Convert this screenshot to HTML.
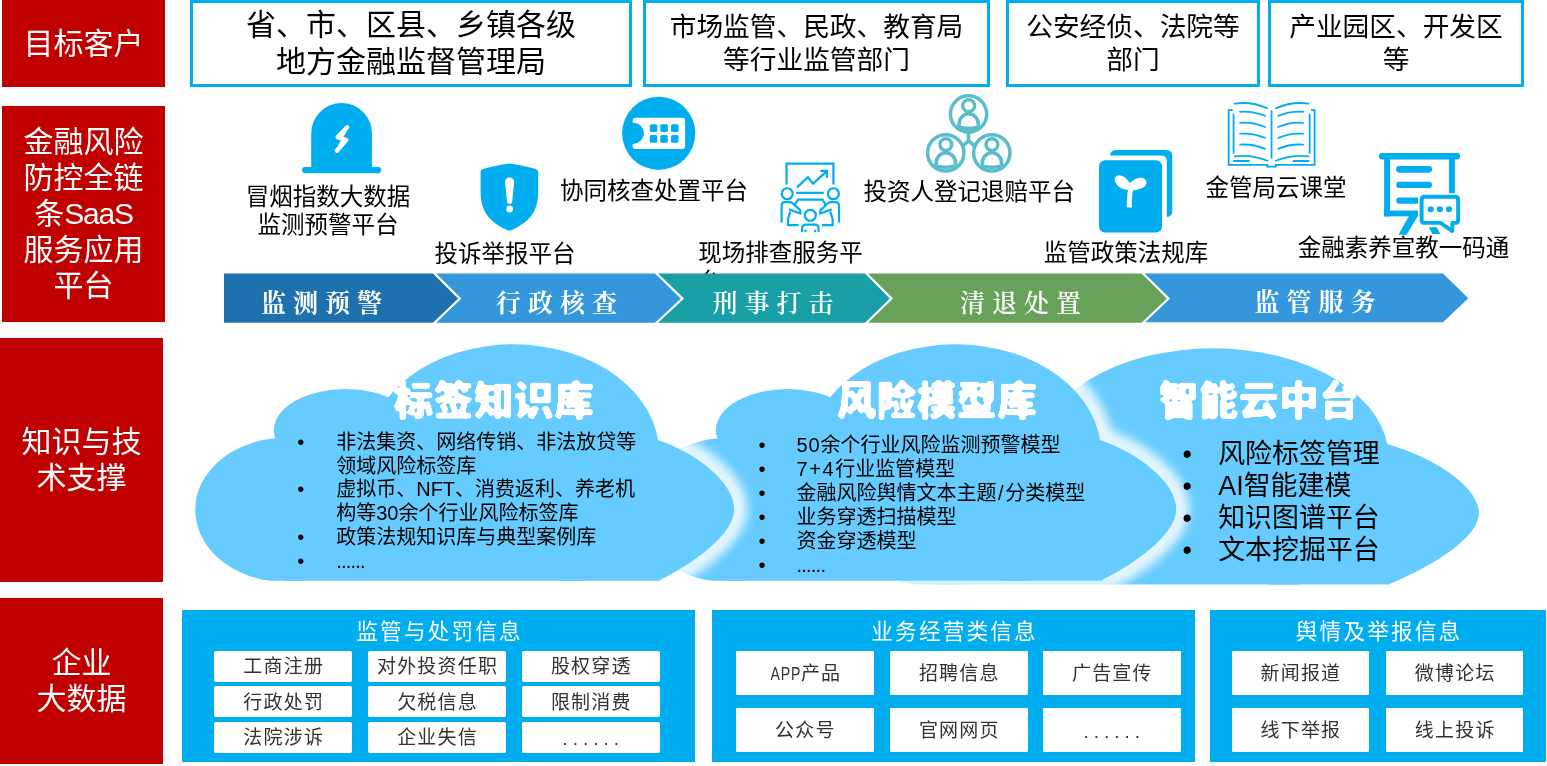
<!DOCTYPE html>
<html lang="zh-CN">
<head>
<meta charset="utf-8">
<title>金融风险防控全链条SaaS服务应用平台</title>
<style>
html,body{margin:0;padding:0;background:#fff;}
body{width:1547px;height:766px;position:relative;overflow:hidden;font-family:"Liberation Sans","Noto Sans CJK SC",sans-serif;color:#000;font-weight:400;}
#stage{position:absolute;left:0;top:0;width:1547px;height:766px;will-change:transform;}
.abs{position:absolute;}
.red{position:absolute;background:#C00000;color:#fff;font-size:30px;line-height:36px;text-align:center;display:flex;align-items:center;justify-content:center;font-weight:400;}
.tbox{position:absolute;box-sizing:border-box;border:3px solid #00AEEF;background:#fff;text-align:center;display:flex;align-items:center;justify-content:center;}
.lbl{position:absolute;font-size:23.5px;line-height:28px;white-space:nowrap;text-align:center;}
.panel{position:absolute;background:#00AEEF;}
.ptitle{position:absolute;left:0;right:0;top:9px;text-align:center;color:#fff;font-size:21.6px;line-height:26px;letter-spacing:2.2px;text-indent:2.2px;}
.chip{position:absolute;box-sizing:border-box;background:#fff;border-radius:1.2px;color:#333;font-size:19px;letter-spacing:1.2px;text-indent:1.2px;text-align:center;display:flex;align-items:center;justify-content:center;line-height:20px;padding-top:2px;}
.p1 .chip{border-radius:1.8px;}
.chip.dots{letter-spacing:5px;text-indent:5px;padding-top:4px;}
.cx{display:inline-block;transform:scaleX(.74);margin:0 -5.6px;}
.bul{position:absolute;font-size:20px;line-height:23.9px;white-space:nowrap;}
.bul .e{letter-spacing:-.8px;}
.bul .d{position:absolute;}
#svgbg{position:absolute;left:0;top:0;}
</style>
</head>
<body>
<div id="stage">

<!-- left red labels -->
<div class="red" style="left:2px;top:0;width:163px;height:87px;"><div>目标客户</div></div>
<div class="red" style="left:2px;top:106px;width:163px;height:216px;"><div>金融风险<br>防控全链<br>条<span style="letter-spacing:-1.2px">SaaS</span><br>服务应用<br>平台</div></div>
<div class="red" style="left:0;top:338px;width:163px;height:244px;"><div>知识与技<br>术支撑</div></div>
<div class="red" style="left:0;top:598px;width:163px;height:166.3px;"><div>企业<br>大数据</div></div>

<!-- top boxes -->
<div class="tbox" style="left:190px;top:0;width:442px;height:87px;font-size:30px;line-height:36.5px;"><div>省、市、区县、乡镇各级<br>地方金融监督管理局</div></div>
<div class="tbox" style="left:643px;top:0;width:347px;height:87px;font-size:26.7px;line-height:33px;"><div>市场监管、民政、教育局<br>等行业监管部门</div></div>
<div class="tbox" style="left:1006px;top:0;width:254px;height:87px;font-size:26.7px;line-height:33px;"><div>公安经侦、法院等<br>部门</div></div>
<div class="tbox" style="left:1268px;top:0;width:256px;height:87px;font-size:26.7px;line-height:33px;"><div>产业园区、开发区<br>等</div></div>


<!-- icon labels -->
<div class="lbl" style="left:228px;top:183px;width:200px;">冒烟指数大数据<br>监测预警平台</div>
<div class="lbl" style="left:405px;top:239.7px;width:200px;">投诉举报平台</div>
<div class="lbl" style="left:554px;top:177.4px;width:200px;">协同核查处置平台</div>
<div class="lbl" style="left:698.2px;top:239px;width:172px;text-align:left;white-space:normal;line-height:28.6px;">现场排查服务平台</div>
<div class="lbl" style="left:863.4px;top:178px;width:200px;">投资人登记退赔平台</div>
<div class="lbl" style="left:1026px;top:239px;width:200px;">监管政策法规库</div>
<div class="lbl" style="left:1175.9px;top:174.4px;width:200px;">金管局云课堂</div>
<div class="lbl" style="left:1297.7px;top:234.4px;width:200px;">金融素养宣教一码通</div>

<!-- arrow bar -->
<svg class="abs" style="left:0;top:0;" width="1547" height="340" viewBox="0 0 1547 340">
  <g id="arrowbar">
    <polygon points="224,273.5 434.5,273.5 459.8,298.6 434.5,322.7 224,322.7" fill="#1F71AD"/>
    <polygon points="434.5,273.5 656.5,273.5 682.5,298.6 656.5,322.7 434.5,322.7 459.8,298.6" fill="#3496DB"/>
    <polygon points="656.5,273.5 866.5,273.5 891.5,298.6 866.5,322.7 656.5,322.7 682.5,298.6" fill="#19A0A7"/>
    <polygon points="866.5,273.5 1143,273.5 1168.5,298.6 1143,322.7 866.5,322.7 891.5,298.6" fill="#68A25A"/>
    <polygon points="1143,273.5 1443,273.5 1468.3,298.3 1443,322.2 1143,322.2 1168.5,298.6" fill="#3496DB"/>
    <g fill="none" stroke="#fff" stroke-width="2.2">
      <polyline points="433.5,272.5 459.8,298.6 433.5,323.7"/>
      <polyline points="655.5,272.5 682.5,298.6 655.5,323.7"/>
      <polyline points="865.5,272.5 891.5,298.6 865.5,323.7"/>
      <polyline points="1142,272.5 1168.5,298.6 1142,323.7"/>
    </g>
    <g fill="#fff" font-family="'Liberation Serif','Noto Serif CJK SC',serif" font-size="25" text-anchor="middle" style="white-space:pre">
      <text x="325" y="311.6" font-weight="700" letter-spacing="7">监测预警</text>
      <text x="560" y="311.6" font-weight="700" letter-spacing="7">行政核查</text>
      <text x="776.5" y="311.6" font-weight="600" letter-spacing="7">刑事打击</text>
      <text x="1024" y="311.6" font-weight="600" letter-spacing="7">清退处置</text>
      <text x="1318.5" y="310.8" font-weight="700" letter-spacing="7">监管服务</text>
    </g>
  </g>

  <g id="icons">
    <!-- 1 siren -->
    <g fill="#00AEEF">
      <path d="M311.2,170 V133.4 A30.4,30.4 0 0 1 372,133.4 V170 Z"/>
      <rect x="302" y="167" width="79.2" height="6.2" rx="3.1"/>
      <polyline points="347.2,127.3 337.7,137.1 346.3,140.1 336.8,150.7" fill="none" stroke="#fff" stroke-width="4.3" stroke-linejoin="round" stroke-linecap="round"/><polygon points="347.2,127.3 337.7,137.1 342,138.6 346,133" fill="#fff"/><polygon points="336.8,150.7 346.3,140.1 342,138.6 338.5,145" fill="#fff"/>
    </g>
    <!-- 2 shield -->
    <g>
      <path fill="#00AEEF" d="M509.4,163.4 C500,164.5 490,167 483,169 Q480.6,169.8 480.6,172 V192 C480.6,212 490,222 507,230 Q509.4,231.2 511.8,230 C529,222 538.2,212 538.2,192 V172 Q538.2,169.8 535.8,169 C529,167 519,164.5 509.4,163.4 Z"/>
      <path fill="#fff" d="M505,182 A4.6,4.6 0 0 1 514.2,182 L512.2,201.2 A2.6,2.6 0 0 1 507,201.2 Z"/>
      <circle cx="509.6" cy="209" r="3.4" fill="#fff"/>
    </g>
    <!-- 3 ticket in circle -->
    <g>
      <circle cx="658.7" cy="133.3" r="36.6" fill="#00AEEF"/>
      <rect x="632.6" y="117.8" width="52.5" height="31.2" rx="3" fill="#fff"/>
      <circle cx="633.3" cy="133.3" r="10.6" fill="#00AEEF"/>
      <g fill="#00AEEF">
        <rect x="649.8" y="124.2" width="7.5" height="7.8" rx="1.6"/><rect x="660.3" y="124.2" width="7.5" height="7.8" rx="1.6"/><rect x="671" y="124.2" width="7.5" height="7.8" rx="1.6"/>
        <rect x="649.8" y="135" width="7.5" height="7.8" rx="1.6"/><rect x="660.3" y="135" width="7.5" height="7.8" rx="1.6"/><rect x="671" y="135" width="7.5" height="7.8" rx="1.6"/>
      </g>
    </g>
    <!-- 4 meeting -->
    <g transform="translate(700,150) scale(0.13055)" fill="none" stroke="#00AEEF" stroke-width="17" stroke-linejoin="miter">
      <polyline points="663,265 663,105 1022,105 1022,265"/>
      <polyline points="742,288 826,208 866,258 972,162"/>
      <polyline points="922,160 972,160 972,212"/>
      <line x1="735" y1="328" x2="948" y2="328"/>
      <circle cx="668" cy="335" r="42"/>
      <circle cx="1022" cy="335" r="42"/>
      <polyline points="722,425 750,380 940,380 965,425"/>
      <path d="M625,555 V428 Q625,400 653,400 H688 Q702,400 712,410 L768,462 V486 L682,455"/>
      <path d="M692,472 L674,528 V575 H756"/>
      <path d="M1065,555 V428 Q1065,400 1037,400 H1002 Q988,400 978,410 L922,462 V486 L1008,455"/>
      <path d="M998,472 L1016,528 V575 H934"/>
      <circle cx="845" cy="500" r="42"/>
      <path d="M782,628 V600 Q782,572 810,572 H880 Q908,572 908,600 V628"/>
      <path d="M808,610 V628 M882,610 V628"/>
    </g>
    <!-- 5 three people -->
    <g transform="translate(870,85) scale(0.13055)" fill="none" stroke="#5BBCCB" stroke-width="27">
      <g id="pc"><circle cx="755" cy="222" r="139"/><circle cx="756" cy="158" r="45"/><path d="M681,308 C681,258 712,221 756,221 C800,221 831,258 831,308 Q831,324 812,327 Q756,336 700,327 Q681,324 681,308 Z"/></g>
      <g transform="translate(-175,298)"><circle cx="755" cy="222" r="139"/><circle cx="756" cy="158" r="45"/><path d="M681,308 C681,258 712,221 756,221 C800,221 831,258 831,308 Q831,324 812,327 Q756,336 700,327 Q681,324 681,308 Z"/></g>
      <g transform="translate(178,298)"><circle cx="755" cy="222" r="139"/><circle cx="756" cy="158" r="45"/><path d="M681,308 C681,258 712,221 756,221 C800,221 831,258 831,308 Q831,324 812,327 Q756,336 700,327 Q681,324 681,308 Z"/></g>
      <path d="M755,372 V425 L712,468 M755,425 L798,468"/>
    </g>
    <!-- 6 folder sprout -->
    <g>
      <path fill="#00AEEF" d="M1110,155.4 Q1110.5,150 1117,150 H1166 Q1172.3,150 1172.3,156.3 V211 Q1172.3,216.5 1166.8,217 V161 Q1166.8,155.4 1161,155.4 Z"/>
      <rect x="1099" y="160.2" width="63" height="72.2" rx="6" fill="#00AEEF"/>
      <g transform="translate(1050,140) scale(0.13055)" fill="#fff">
        <path d="M598,380 C590,420 588,470 588,518 H628 C624,470 628,420 636,385 Z"/>
        <path d="M612,332 C590,290 540,258 510,275 C478,295 500,340 540,365 C565,380 590,382 602,380 Z"/>
        <path d="M618,328 C640,295 700,275 728,300 C755,330 730,360 700,370 C670,382 645,386 630,386 Z"/>
        <path d="M600,385 L612,325 L622,325 L636,388 Z"/>
      </g>
    </g>
    <!-- 7 book -->
    <g transform="translate(1200,85) scale(0.13055)" fill="none" stroke="#00AEEF" stroke-width="13.8" stroke-linecap="round">
      <polyline stroke-linecap="butt" points="250,193 220,193 220,612 515,612 515,625 580,625 580,612 878,612 878,193 850,193"/>
      <path d="M257,225 V520 M840,225 V520 M548,200 V558"/>
      <path d="M265,143 C350,130 440,145 515,178 M832,143 C747,130 657,145 582,178"/>
      <path d="M307,205 C370,200 440,213 498,237 M307,290 C370,285 440,298 498,322 M307,373 C370,368 440,381 498,405 M307,457 C370,452 440,465 498,489"/>
      <path d="M790,205 C727,200 657,213 599,237 M790,290 C727,285 657,298 599,322 M790,373 C727,368 657,381 599,405 M790,457 C727,452 657,465 599,489"/>
      <path d="M265,547 C350,535 440,550 518,580 M832,547 C747,535 657,550 579,580"/>
      <path d="M260,582 H375 M717,582 H832"/>
    </g>
    <!-- 8 board with chat -->
    <g transform="translate(1340,140) scale(0.13055)" fill="#00AEEF">
      <rect x="298" y="100" width="622" height="50" rx="25"/>
      <rect x="338" y="125" width="45" height="460"/>
      <rect x="835" y="125" width="45" height="300"/>
      <rect x="338" y="540" width="260" height="45"/>
      <rect x="430" y="200" width="275" height="50" rx="25"/>
      <rect x="430" y="320" width="275" height="48" rx="24"/>
      <rect x="430" y="440" width="180" height="48" rx="24"/>
      <polygon points="528,583 596,583 510,725 448,725"/>
      <polygon points="680,668 740,668 768,720 708,720"/>
      <path d="M598,408 H932 V662 H880 V720 H830 L760,662 H598 Z" fill="#fff"/>
      <path d="M650,435 H880 Q905,435 905,460 V610 Q905,635 880,635 H860 V698 L770,635 H650 Q625,635 625,610 V460 Q625,435 650,435 Z" fill="#fff" stroke="#00AEEF" stroke-width="30" stroke-linejoin="round"/>
      <circle cx="695" cy="530" r="23"/><circle cx="765" cy="530" r="23"/><circle cx="835" cy="530" r="23"/>
    </g>
  </g>

</svg>


<svg class="abs" style="left:0;top:330px;" width="1547" height="270" viewBox="0 330 1547 270">
  <defs>
    <filter id="glow" x="-10%" y="-10%" width="120%" height="120%"><feGaussianBlur stdDeviation="5"/></filter>
    <filter id="round" x="-5%" y="-20%" width="110%" height="140%"><feGaussianBlur stdDeviation="1.3"/><feComponentTransfer><feFuncA type="linear" slope="6" intercept="-2.5"/></feComponentTransfer></filter>
    <clipPath id="cglow"><rect x="0" y="330" width="1547" height="258"/></clipPath>
    <clipPath id="cbot"><rect x="0" y="330" width="1547" height="250.7"/></clipPath>
    <clipPath id="cbot3"><rect x="0" y="330" width="1547" height="254.5"/></clipPath>
    <g id="cloud">
      <ellipse cx="285.2" cy="509.9" rx="90" ry="72"/>
      <ellipse cx="345.6" cy="430.2" rx="71.8" ry="41.2"/>
      <ellipse cx="513.4" cy="452.6" rx="145.7" ry="108.3"/>
      <path d="M560,439.7 L657.2,439.7 C695,452 734.3,482 734.3,509 C734.3,532 700,560 660,580 L660,590 L560,590 Z"/>
      <rect x="285" y="440" width="300" height="150"/>
    </g>
  </defs>
  <!-- cloud 3 (back) -->
  <g clip-path="url(#cbot3)"><use href="#cloud" transform="translate(1212.8,4) scale(1.205,1) translate(-513.4,0)" fill="#66CCFF"/></g>
  <!-- cloud 2 -->
  <g filter="url(#glow)" opacity="0.82"><g clip-path="url(#cglow)"><use href="#cloud" transform="translate(442,0)" fill="#fff" stroke="#fff" stroke-width="26"/></g></g>
  <g clip-path="url(#cbot)"><use href="#cloud" transform="translate(442,0)" fill="#66CCFF"/></g>
  <!-- cloud 1 (front) -->
  <g filter="url(#glow)" opacity="0.82"><g clip-path="url(#cglow)"><use href="#cloud" fill="#fff" stroke="#fff" stroke-width="26"/></g></g>
  <g clip-path="url(#cbot)"><use href="#cloud" fill="#66CCFF"/></g>

  <g font-family="'Liberation Sans','Noto Sans CJK SC',sans-serif" font-weight="900" font-size="39.5" letter-spacing="0.6" fill="#fff" stroke="#fff" stroke-width="0.7" stroke-linejoin="round" text-anchor="middle" filter="url(#round)">
    <text x="494" y="414.5">标签知识库</text>
    <text x="937" y="414.5">风险模型库</text>
    <text x="1259" y="414.5">智能云中台</text>
  </g>
</svg>

<div class="bul" style="left:336.2px;top:430.6px;">
<span class="d" style="left:-39px;">•</span>非法集资、网络传销、非法放贷等<br>领域风险标签库<br>
<span class="d" style="left:-39px;">•</span>虚拟币、NFT、消费返利、养老机<br>构等30余个行业风险标签库<br>
<span class="d" style="left:-39px;">•</span>政策法规知识库与典型案例库<br>
<span class="d" style="left:-39px;">•</span><span class="e">......</span></div>

<div class="bul" style="left:796.6px;top:434px;">
<span class="d" style="left:-38px;">•</span><span style="letter-spacing:.8px">50</span>余个行业风险监测预警模型<br>
<span class="d" style="left:-38px;">•</span><span style="letter-spacing:1.6px">7+4</span>行业监管模型<br>
<span class="d" style="left:-38px;">•</span>金融风险舆情文本主题<span style="padding:0 1.5px">/</span>分类模型<br>
<span class="d" style="left:-38px;">•</span>业务穿透扫描模型<br>
<span class="d" style="left:-38px;">•</span>资金穿透模型<br>
<span class="d" style="left:-38px;">•</span><span class="e">......</span></div>

<div class="bul" style="left:1218.2px;top:438px;font-size:26.95px;line-height:32px;">
<span class="d" style="left:-35.7px;">•</span>风险标签管理<br>
<span class="d" style="left:-35.7px;">•</span>AI智能建模<br>
<span class="d" style="left:-35.7px;">•</span>知识图谱平台<br>
<span class="d" style="left:-35.7px;">•</span>文本挖掘平台</div>



<!-- bottom panels -->
<div class="panel p1" style="left:182px;top:610px;width:513px;height:152px;">
<div class="ptitle">监管与处罚信息</div>
<div class="chip" style="left:32px;top:40.6px;width:138.3px;height:31px;">工商注册</div>
<div class="chip" style="left:185.8px;top:40.6px;width:138.3px;height:31px;">对外投资任职</div>
<div class="chip" style="left:339.6px;top:40.6px;width:138.3px;height:31px;">股权穿透</div>
<div class="chip" style="left:32px;top:76px;width:138.3px;height:31px;">行政处罚</div>
<div class="chip" style="left:185.8px;top:76px;width:138.3px;height:31px;">欠税信息</div>
<div class="chip" style="left:339.6px;top:76px;width:138.3px;height:31px;">限制消费</div>
<div class="chip" style="left:32px;top:111.7px;width:138.3px;height:31px;">法院涉诉</div>
<div class="chip" style="left:185.8px;top:111.7px;width:138.3px;height:31px;">企业失信</div>
<div class="chip dots" style="left:339.6px;top:111.7px;width:138.3px;height:31px;">......</div>
</div>
<div class="panel" style="left:712px;top:610px;width:483px;height:152px;">
<div class="ptitle">业务经营类信息</div>
<div class="chip" style="left:23.8px;top:40.6px;width:137.8px;height:44.2px;"><div><span class="cx">APP</span>产品</div></div>
<div class="chip" style="left:177.8px;top:40.6px;width:137.8px;height:44.2px;">招聘信息</div>
<div class="chip" style="left:330.9px;top:40.6px;width:137.8px;height:44.2px;">广告宣传</div>
<div class="chip" style="left:23.8px;top:98px;width:137.8px;height:44.2px;">公众号</div>
<div class="chip" style="left:177.8px;top:98px;width:137.8px;height:44.2px;">官网网页</div>
<div class="chip dots" style="left:330.9px;top:98px;width:137.8px;height:44.2px;">......</div>
</div>
<div class="panel" style="left:1210px;top:610px;width:336px;height:152px;">
<div class="ptitle">舆情及举报信息</div>
<div class="chip" style="left:21.7px;top:41px;width:137.3px;height:43.9px;">新闻报道</div>
<div class="chip" style="left:176px;top:41px;width:137.3px;height:43.9px;">微博论坛</div>
<div class="chip" style="left:21.7px;top:98.2px;width:137.3px;height:43.9px;">线下举报</div>
<div class="chip" style="left:176px;top:98.2px;width:137.3px;height:43.9px;">线上投诉</div>
</div>


</div>
</body>
</html>
